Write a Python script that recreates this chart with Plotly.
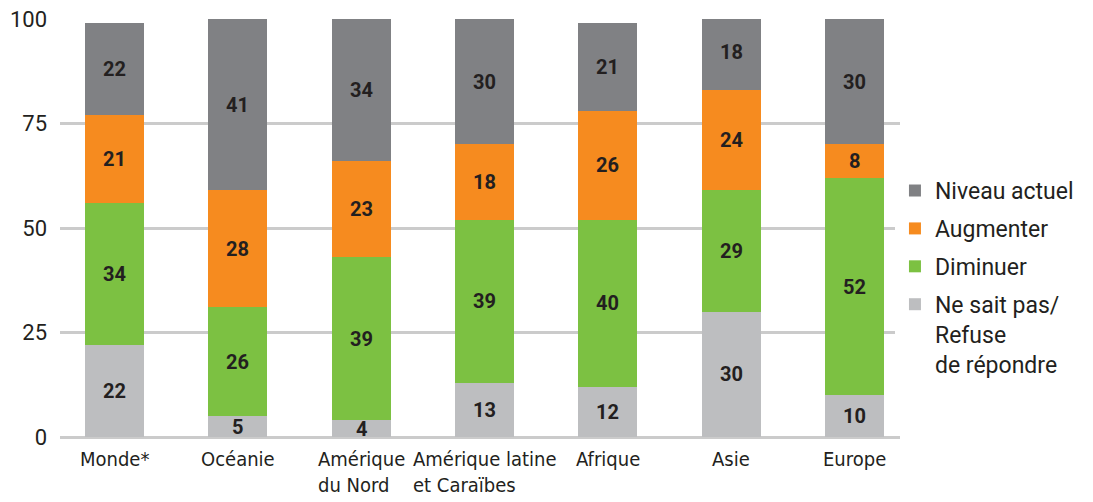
import plotly.graph_objects as go

regions = ["Monde*", "Océanie", "Amérique<br>du Nord", "Amérique latine<br>et Caraïbes",
           "Afrique", "Asie", "Europe"]
ne_sait_pas = [22, 5, 4, 13, 12, 30, 10]
diminuer = [34, 26, 39, 39, 40, 29, 52]
augmenter = [21, 28, 23, 18, 26, 24, 8]
niveau_actuel = [22, 41, 34, 30, 21, 18, 30]

series = [
    ("Ne sait pas/<br>Refuse<br>de répondre", ne_sait_pas, "#bdbec0"),
    ("Diminuer", diminuer, "#7cc142"),
    ("Augmenter", augmenter, "#f68b1f"),
    ("Niveau actuel", niveau_actuel, "#808184"),
]

x_idx = list(range(len(regions)))

fig = go.Figure()
base = [0] * len(regions)
for k, (name, vals, color) in enumerate(series):
    fig.add_trace(go.Bar(
        x=x_idx, y=vals, name=name,
        marker=dict(color=color, line=dict(width=0)),
        width=0.478,
        legendgroup=f"g{k}",
        legendrank=len(series) - k,  # top of stack listed first
    ))
    # value labels centred in each segment
    for i, v in enumerate(vals):
        fig.add_annotation(
            x=i, y=base[i] + v / 2, xref="x", yref="y",
            text=str(v), showarrow=False,
            xanchor="center", yanchor="middle",
            font=dict(family="Roboto", size=20, color="#231f20", weight="bold"),
        )
        base[i] += v

# category labels below the axis, left-aligned lines
for i, lab in enumerate(regions):
    fig.add_annotation(
        x=i, y=-0.02, xref="x", yref="paper",
        text=lab, showarrow=False, align="left",
        xanchor="center", yanchor="top",
        font=dict(family="DejaVu Sans Condensed", size=20, color="#231f20"),
    )

fig.update_layout(
    barmode="stack",
    width=1093, height=502,
    margin=dict(l=60, r=193, t=19, b=65),
    plot_bgcolor="white", paper_bgcolor="white",
    showlegend=True,
    legend=dict(
        traceorder="grouped",
        tracegroupgap=5,
        valign="top",
        x=0.994, xanchor="left", y=0.641, yanchor="top",
        font=dict(family="Roboto", size=23, color="#231f20"),
        itemclick=False,
    ),
    xaxis=dict(
        range=[-0.442, 6.369], showticklabels=False, showgrid=False,
        zeroline=False, showline=False, ticks="",
    ),
    yaxis=dict(
        range=[0, 100], tickvals=[0, 25, 50, 75, 100],
        showgrid=True, gridcolor="#cbcbcb", gridwidth=3,
        zeroline=True, zerolinecolor="#cbcbcb", zerolinewidth=3,
        tickfont=dict(family="Roboto", size=22, color="#231f20"),
        ticks="", ticklabelstandoff=12, automargin=False,
    ),
)

fig.write_html("out.html")
